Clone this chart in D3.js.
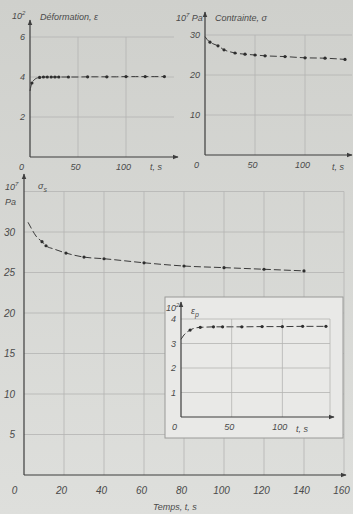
<!DOCTYPE html>
<html>
<head>
<meta charset="utf-8">
<script src="https://cdn.jsdelivr.net/npm/d3@7"></script>
<style>
  html, body { margin: 0; padding: 0; background: #d6d6d3; }
  svg text { font-family: 'Liberation Sans', 'DejaVu Sans', sans-serif; font-style: italic; fill: #4a4a4a; }
  .grid line { stroke: #b4b4b2; stroke-width: 0.8; }
</style>
</head>
<body>
<div id="chart"></div>
<script>
// Déformation (10^-2) vs t
const strainT = [0, 1, 2, 4, 6, 8, 10, 14, 18, 22, 26, 30, 40, 50, 60, 70, 80, 90, 100, 110, 120, 130, 140];
const strainV = [3.3, 3.55, 3.7, 3.84, 3.92, 3.96, 3.98, 4.0, 4.0, 4.0, 4.0, 4.0, 4.0, 4.0, 4.01, 4.01, 4.01, 4.01, 4.02, 4.02, 4.02, 4.02, 4.02];
const strainDots = [2, 10, 14, 18, 22, 26, 30, 40, 60, 80, 100, 120, 140];

// Contrainte (10^7 Pa) vs t
const stressT = [0, 2, 5, 9, 13, 19, 25, 30, 40, 50, 60, 80, 100, 120, 140];
const stressV = [29.6, 28.9, 28.2, 27.7, 27.3, 26.3, 25.8, 25.5, 25.2, 25.0, 24.8, 24.6, 24.3, 24.2, 23.9];
const stressDots = [5, 13, 19, 30, 40, 50, 60, 80, 100, 120, 140];

// Contrainte sigma_s (10^7 Pa) vs temps
const sigmaT = [2, 4, 6, 9, 11, 15, 21, 30, 40, 60, 80, 100, 120, 140];
const sigmaV = [31.2, 30.3, 29.5, 28.8, 28.3, 27.9, 27.4, 26.9, 26.7, 26.2, 25.8, 25.6, 25.4, 25.2];
const sigmaDots = [9, 11, 21, 30, 40, 60, 80, 100, 120, 140];

// Déformation epsilon_p (10^-2) vs t
const epsT = [0, 3, 6, 9, 13, 19, 25, 32, 41, 50, 60, 80, 100, 120, 143];
const epsV = [3.17, 3.35, 3.47, 3.55, 3.62, 3.66, 3.67, 3.68, 3.68, 3.68, 3.68, 3.69, 3.69, 3.7, 3.7];
const epsDots = [9, 19, 32, 41, 60, 80, 100, 120, 143];

const W = 353, H = 514;
const svg = d3.select('#chart').append('svg').attr('width', W).attr('height', H);

const defs = svg.append('defs');
const bg = defs.append('linearGradient').attr('id', 'bg').attr('x1', 0).attr('y1', 0).attr('x2', 0).attr('y2', 1);
bg.append('stop').attr('offset', '0').attr('stop-color', '#cfd0cc');
bg.append('stop').attr('offset', '1').attr('stop-color', '#dedfdc');
defs.append('marker').attr('id', 'arrow').attr('viewBox', '0 0 10 10').attr('refX', 9).attr('refY', 5)
    .attr('markerWidth', 5).attr('markerHeight', 5).attr('orient', 'auto')
  .append('path').attr('d', 'M0,1L10,5L0,9Z').attr('fill', '#3d3d3d');

svg.append('rect').attr('width', W).attr('height', H).attr('fill', 'url(#bg)');

function panel(cfg) {
  const g = svg.append('g');
  const x = d3.scaleLinear().domain(cfg.xDomain).range(cfg.xRange);
  const y = d3.scaleLinear().domain(cfg.yDomain).range(cfg.yRange);

  if (cfg.box) {
    g.append('rect').attr('x', cfg.box[0]).attr('y', cfg.box[1])
        .attr('width', cfg.box[2]).attr('height', cfg.box[3])
        .attr('fill', '#e9e9e7').attr('stroke', '#9a9a98').attr('stroke-width', 1);
  }

  // grid
  const grid = g.append('g').attr('class', 'grid');
  grid.selectAll('.gy').data(cfg.yGrid).enter().append('line')
      .attr('x1', x(cfg.xDomain[0])).attr('x2', x(cfg.xDomain[1]))
      .attr('y1', (d) => y(d)).attr('y2', (d) => y(d));
  grid.selectAll('.gx').data(cfg.xGrid).enter().append('line')
      .attr('x1', (d) => x(d)).attr('x2', (d) => x(d))
      .attr('y1', y(0)).attr('y2', y(cfg.yDomain[1]));

  // tick labels via axes, no tick marks
  const xAxis = d3.axisBottom(x).tickValues(cfg.xTicks).tickFormat(d3.format('d'))
      .tickSize(0).tickPadding(cfg.xPad || 7);
  const yAxis = d3.axisLeft(y).tickValues(cfg.yTicks).tickFormat(d3.format('d'))
      .tickSize(0).tickPadding(cfg.yPad || 5);
  const gx = g.append('g').attr('transform', `translate(-3, ${y(0)})`).call(xAxis);
  const gy = g.append('g').attr('transform', `translate(${x(0)}, 0)`).call(yAxis);
  gx.select('.domain').remove();
  gy.select('.domain').remove();
  gx.selectAll('.tick text').attr('dx', (d) => d === 0 ? -cfg.zeroShift : 0);
  g.selectAll('.tick text').attr('font-size', cfg.fs || 9).style('font-family', null);

  // axis lines with arrows
  g.append('line').attr('x1', x(0)).attr('x2', cfg.xEnd).attr('y1', y(0)).attr('y2', y(0))
      .attr('stroke', '#3d3d3d').attr('stroke-width', 1.2).attr('marker-end', 'url(#arrow)');
  g.append('line').attr('x1', x(0)).attr('x2', x(0)).attr('y1', y(0)).attr('y2', cfg.yEnd)
      .attr('stroke', '#3d3d3d').attr('stroke-width', 1.2).attr('marker-end', 'url(#arrow)');

  // curve (dashed like the original)
  const pts = cfg.t.map((t, i) => [t, cfg.v[i]]);
  const line = d3.line().x((d) => x(d[0])).y((d) => y(d[1])).curve(d3.curveMonotoneX);
  g.append('path').datum(pts).attr('d', line).attr('fill', 'none')
      .attr('stroke', '#3a3a3a').attr('stroke-width', 1).attr('stroke-dasharray', '7,3');
  const dots = pts.filter((d) => cfg.dots.includes(d[0]));
  g.selectAll('.dot').data(dots).enter().append('circle')
      .attr('cx', (d) => x(d[0])).attr('cy', (d) => y(d[1])).attr('r', 1.6).attr('fill', '#2e2e2e');

  (cfg.labels || []).forEach((l) => {
    g.append('text').attr('x', l[0]).attr('y', l[1]).attr('font-size', l[3] || 9).html(l[2]);
  });
  return g;
}

// Déformation
panel({
  xDomain: [0, 150], xRange: [30, 174], yDomain: [0, 6], yRange: [157, 37],
  xGrid: [50, 100], yGrid: [2, 4, 6], xTicks: [0, 50, 100], yTicks: [2, 4, 6], zeroShift: 6,
  xEnd: 178, yEnd: 20, t: strainT, v: strainV, dots: strainDots,
  labels: [[12, 19, '10<tspan dy="-4" font-size="6">2</tspan>'], [40, 20, 'Déformation, ε'], [150, 170, 't, s']]
});
// Contrainte
panel({
  xDomain: [0, 147], xRange: [205, 352], yDomain: [0, 30], yRange: [155, 35],
  xGrid: [50, 100], yGrid: [10, 20, 30], xTicks: [0, 50, 100], yTicks: [10, 20, 30], zeroShift: 6,
  xEnd: 352, yEnd: 12, t: stressT, v: stressV, dots: stressDots,
  labels: [[176, 21, '10<tspan dy="-4" font-size="6">7</tspan><tspan dy="4"> Pa</tspan>'], [215, 21, 'Contrainte, σ'], [332, 170, 't, s']]
});
// Grand graphique
panel({
  xDomain: [0, 160], xRange: [24, 344], yDomain: [0, 35], yRange: [475, 191.5],
  xGrid: [20, 40, 60, 80, 100, 120, 140, 160], yGrid: [5, 10, 15, 20, 25, 30, 35],
  xTicks: [0, 20, 40, 60, 80, 100, 120, 140, 160], yTicks: [5, 10, 15, 20, 25, 30], zeroShift: 7,
  xPad: 12, yPad: 9, fs: 10,
  xEnd: 346, yEnd: 174, t: sigmaT, v: sigmaV, dots: sigmaDots,
  labels: [[5, 190, '10<tspan dy="-4" font-size="6">7</tspan>'], [5, 205, 'Pa'],
           [38, 189, 'σ<tspan dy="3" font-size="7">s</tspan>'], [153, 510, 'Temps, t, s']]
});
// Encart
panel({
  box: [165, 297, 178, 141],
  xDomain: [0, 147], xRange: [181, 330], yDomain: [0, 4], yRange: [417, 319],
  xGrid: [50, 100, 147], yGrid: [1, 2, 3, 4], xTicks: [0, 50, 100], yTicks: [1, 2, 3, 4], zeroShift: 4,
  xEnd: 334, yEnd: 302, t: epsT, v: epsV, dots: epsDots,
  labels: [[166, 311, '10<tspan dy="-4" font-size="6">2</tspan>'], [191, 314, 'ε<tspan dy="3" font-size="7">p</tspan>'], [296, 432, 't, s']]
});
</script>
</body>
</html>
